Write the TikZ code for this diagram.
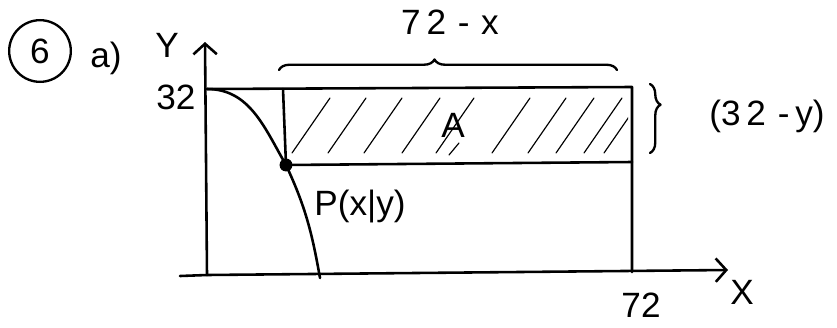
\documentclass[tikz,border=0pt]{standalone}
\usepackage{fontspec}
\setmainfont{Liberation Sans}
\usetikzlibrary{decorations.pathreplacing,arrows.meta}
\begin{document}
\begin{tikzpicture}[x=0.03cm,y=-0.03cm, line width=2.2pt, line cap=round, line join=round,
  lbl/.style={font=\fontsize{30}{32}\selectfont, inner sep=0pt},
  axis/.style={-{Straight Barb[length=9pt,width=20pt,line width=2.2pt]}},
  hatch/.style={line width=1pt},
  brc/.style={decorate, line width=2pt}]
\useasboundingbox (0,0) rectangle (837,327);
% coordinates
\coordinate (O) at (207,275);
\coordinate (ytop) at (205,42);
\coordinate (xl) at (180,276);
\coordinate (xr) at (728,270);
\coordinate (TL) at (207,89);
\coordinate (TR) at (632,87);
\coordinate (BR) at (632,272);
\coordinate (VT) at (283,89);
\coordinate (RM) at (632,162);
\coordinate (Cend) at (320,278);
% hatching
\begin{scope}
\clip (285,90) rectangle (628,160);
\foreach \b in {292,328,364,402,436,492,528,556,584,604}
  \draw[hatch] (\b,153) -- ++(38,-55);
\draw[hatch] (449,155) -- ++(10,-12);
\end{scope}
% axes
\draw[axis] (O) -- (ytop);
\draw[axis] (xl) -- (O) -- (xr);
% rectangle
\draw (TL) -- (TR) -- (BR);
\node[circle, fill=black, inner sep=0pt, minimum size=11pt] (P) at (286,165) {};
\draw (VT) -- (P.center) -- (RM);
% curve
\draw (TL) to[out=0,in=120] (P.center) to[out=-65,in=100] (Cend);
% texts
\node[lbl, circle, draw, line width=2pt, minimum size=1.85cm] (six) at (40,51) {6};
\node[lbl] (a) at (106,58) {a)};
\node[lbl] (Y) at (167,45) {Y};
\node[lbl] (n32) at (176,97) {32};
\node[lbl] (X) at (742,292) {X};
\node[lbl] (n72) at (641,305) {72};
\node[lbl] (top) at (450,22) {7\,2\,\,-\,\,x};
\node[lbl] (A) at (453,125) {A};
\node[lbl] (Pl) at (360,206) {P(x|y)};
\node[lbl] (h) at (767,116) {(3\,2\,\,-\,y)};
% braces
\draw[brc, decoration={brace, amplitude=9pt, aspect=0.46}] (279,70) -- (617,70);
\draw[brc, decoration={brace, amplitude=9pt, aspect=0.3}] (650,84) -- (650,153);
\end{tikzpicture}
\end{document}
